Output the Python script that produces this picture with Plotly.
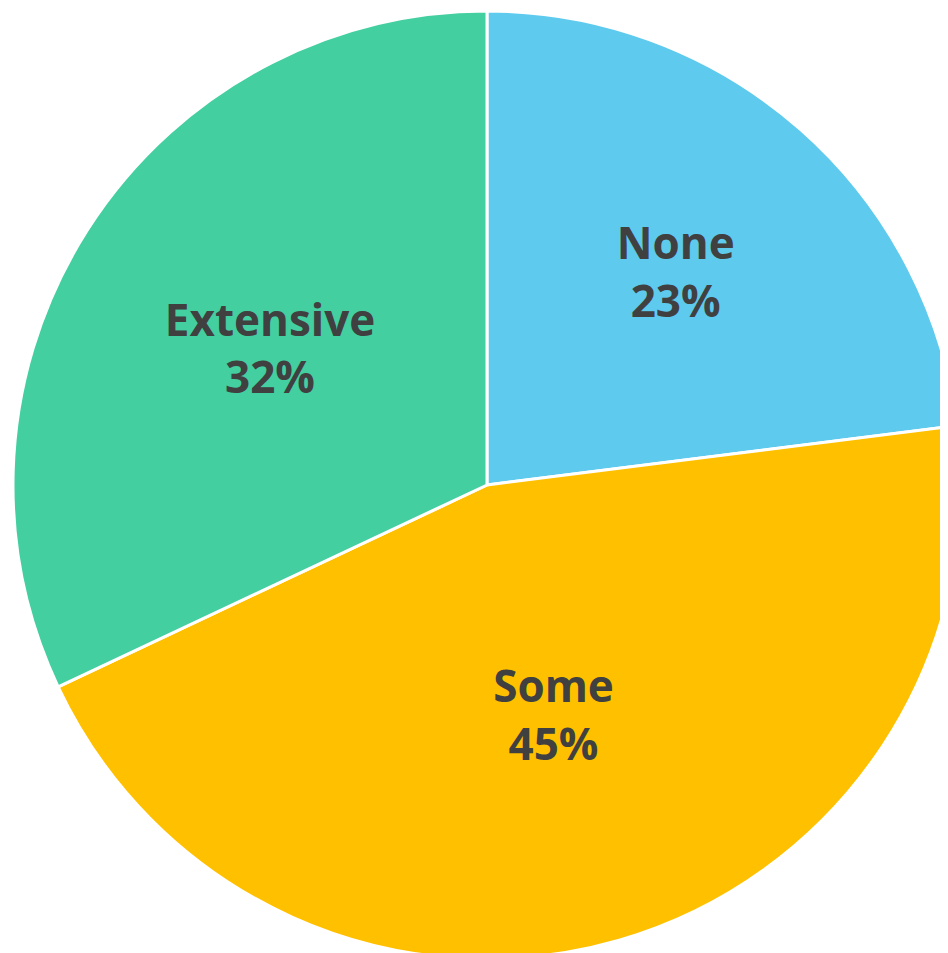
import plotly.graph_objects as go

categories = ["None", "Some", "Extensive"]
values = [23, 45, 32]
colors = ["#5ECAEE", "#FFC000", "#43CFA0"]

fig = go.Figure(go.Pie(
    labels=categories,
    values=values,
    sort=False,
    direction="clockwise",
    rotation=0,
    marker=dict(colors=colors, line=dict(color="white", width=3)),
    textposition="inside",
    insidetextorientation="horizontal",
    texttemplate="%{label}<br>%{percent:.0%}",
    textfont=dict(family="Open Sans", size=44, color="#404040", weight="bold"),
    hoverinfo="skip",
    showlegend=False,
))
fig.update_layout(
    width=953, height=951,
    margin=dict(l=5, t=3, r=0, b=0, pad=0),
    paper_bgcolor="white",
    plot_bgcolor="white",
    showlegend=False,
)
fig.write_html("out.html", post_script="document.body.style.overflow='hidden';")
